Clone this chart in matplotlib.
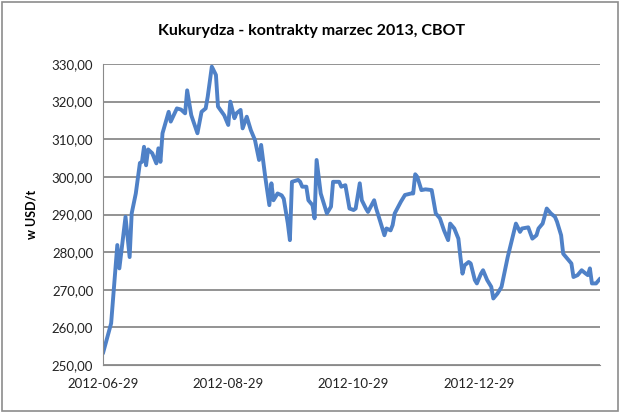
import datetime as dt
import matplotlib
matplotlib.use("Agg")
import matplotlib.pyplot as plt
from matplotlib.patches import Rectangle
from matplotlib.ticker import FuncFormatter

start_date = dt.date(2012, 6, 29)

# days since 2012-06-29
days = [0, 4, 7, 8, 11, 13, 14, 16, 18, 19, 20, 21, 22, 24, 26, 27, 28, 29,
        32, 33, 36, 38, 40, 41, 43, 46, 48, 50, 51, 53, 55, 56, 59, 61, 62,
        64, 65, 67, 68, 70, 72, 74, 76, 77, 79, 81, 82, 83, 85, 87, 88, 90,
        91, 92, 95, 96, 97, 99, 100, 102, 103, 104, 106, 109, 111, 112, 115,
        116, 118, 120, 122, 123, 125, 126, 128, 129, 132, 133, 135, 137, 138,
        140, 141, 142, 145, 146, 147, 150, 151, 152, 153, 155, 157, 160, 162,
        164, 166, 168, 169, 171, 173, 174, 175, 176, 178, 179, 181, 182, 184,
        185, 187, 189, 190, 192, 194, 195, 197, 199, 201, 203, 204, 207, 209,
        211, 212, 214, 216, 218, 220, 221, 223, 224, 226, 228, 229, 231, 233,
        235, 236, 237, 238, 240, 242]

prices = [253.1, 261.1, 281.9, 275.7, 289.4, 278.7, 290.3, 295.6, 303.7, 304.0,
          308.0, 303.1, 307.3, 306.3, 303.6, 307.6, 304.0, 311.6, 317.3, 314.7,
          318.2, 317.9, 316.9, 323.0, 316.4, 311.6, 317.3, 318.2, 321.3, 329.3,
          327.1, 318.7, 316.4, 313.8, 320.0, 315.6, 316.9, 317.8, 312.9, 316.0,
          312.4, 309.8, 304.5, 308.5, 300.0, 292.5, 298.3, 293.8, 295.6, 295.1,
          294.2, 287.6, 283.2, 298.7, 299.2, 298.7, 297.4, 297.4, 293.8, 292.5,
          289.0, 304.5, 295.6, 290.3, 292.1, 298.7, 298.7, 297.4, 297.8, 291.6,
          291.2, 291.6, 298.3, 293.8, 291.6, 290.7, 293.8, 291.6, 288.1, 284.5,
          286.3, 285.8, 287.2, 290.3, 293.4, 294.3, 295.2, 295.6, 295.6, 300.7,
          300.0, 296.5, 296.7, 296.5, 290.3, 289.0, 285.8, 283.2, 287.6, 286.3,
          283.6, 278.7, 274.3, 276.5, 277.4, 277.0, 272.6, 271.7, 274.3, 275.2,
          272.6, 270.8, 267.7, 269.0, 270.8, 273.4, 278.7, 283.2, 287.6, 285.4,
          286.3, 286.6, 283.6, 284.5, 286.3, 287.6, 291.6, 290.3, 289.4, 288.1,
          284.5, 279.6, 278.3, 277.0, 273.4, 273.9, 275.2, 274.3, 273.9, 275.7,
          271.7, 271.7, 273.0]

tick_dates = ["2012-06-29", "2012-08-29", "2012-10-29", "2012-12-29"]
y_ticks = [250, 260, 270, 280, 290, 300, 310, 320, 330]

title = "Kukurydza - kontrakty marzec 2013, CBOT"
y_label = "w USD/t"

plt.rcParams['font.family'] = ['Lato', 'DejaVu Sans']

dates = [start_date + dt.timedelta(days=d) for d in days]

fig = plt.figure(figsize=(6.2, 4.13), dpi=100)
fig.patches.append(Rectangle((0.003, 0.004), 0.994, 0.992, transform=fig.transFigure,
                             fill=False, edgecolor="#8c8c8c", linewidth=1.2))

ax = fig.add_axes([0.166, 0.116, 0.802, 0.729])
ax.plot(dates, prices, color="#4f81c7", linewidth=2.8,
        solid_joinstyle="round", solid_capstyle="round")

ax.set_ylim(250, 330)
ax.set_yticks(y_ticks)
ax.yaxis.set_major_formatter(FuncFormatter(lambda v, p: f"{v:.2f}".replace(".", ",")))
ax.grid(axis="y", color="#8a8a8a", linewidth=1.3)
ax.set_axisbelow(True)

ax.set_xlim(start_date, start_date + dt.timedelta(days=242))
ax.set_xticks([dt.date.fromisoformat(t) for t in tick_dates])
ax.set_xticklabels(tick_dates)

for s in ["top", "right"]:
    ax.spines[s].set_visible(False)
ax.spines["left"].set_color("#8a8a8a")
ax.spines["bottom"].set_color("#8a8a8a")
ax.tick_params(axis="both", length=0, labelsize=9.5, colors="#222222")
ax.tick_params(axis="x", pad=9)
ax.tick_params(axis="y", pad=7)

ax.set_ylabel(y_label, fontsize=9, fontweight="bold", labelpad=10)
fig.text(0.502, 0.925, title, ha="center", va="center", fontsize=11.5, fontweight="bold")

fig.savefig("out.png", dpi=100)
